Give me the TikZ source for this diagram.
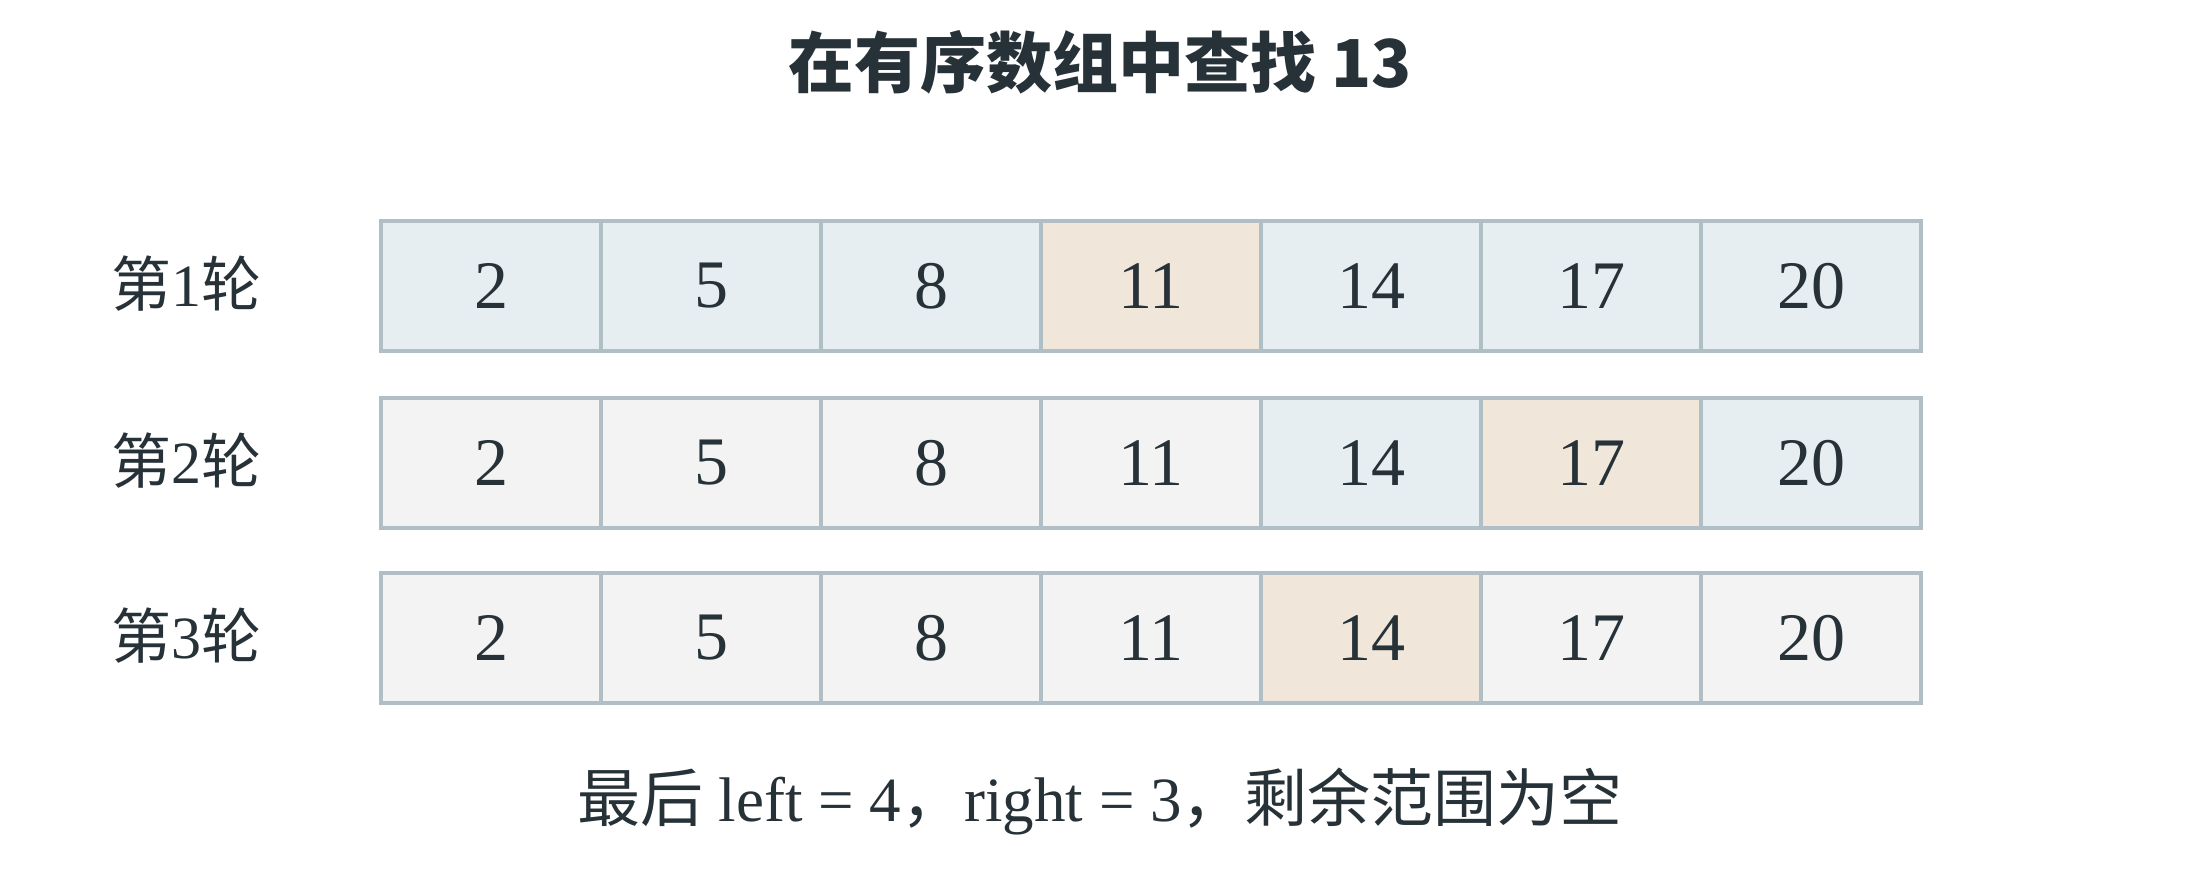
\documentclass[tikz,border=0pt]{standalone}
\usepackage{fontspec}
\setmainfont{Liberation Serif}
\newfontfamily\cjk{Noto Sans CJK SC}
\definecolor{txt}{HTML}{263238}
\definecolor{bord}{HTML}{B0BEC5}
\definecolor{act}{HTML}{E7EEF1}
\definecolor{mid}{HTML}{F0E6DA}
\definecolor{ina}{HTML}{F3F3F3}
\begin{document}
\begin{tikzpicture}[x=0.5pt,y=-0.5pt,
  cell/.style={draw=bord,line width=2pt,minimum width=110pt,minimum height=65pt,inner sep=0pt,anchor=north west,text=txt,font=\fontsize{34}{34}\selectfont},
  rowlab/.style={text=txt,font=\fontsize{30}{30}\selectfont},
  title/.style={text=txt,font=\cjk\bfseries\fontsize{33}{33}\selectfont},
  note/.style={text=txt,font=\fontsize{31.5}{31.5}\selectfont}]
\useasboundingbox[fill=white] (0,0) rectangle (2200,880);
\node[title] (title) at (1100,62) {在有序数组中查找 13};
% row labels
\node[rowlab] (l1) at (186,284) {{\cjk 第}1{\cjk 轮}};
\node[rowlab] (l2) at (186,461) {{\cjk 第}2{\cjk 轮}};
\node[rowlab] (l3) at (186,636) {{\cjk 第}3{\cjk 轮}};
% cells
\foreach \v/\c [count=\i from 0] in {2/act,5/act,8/act,11/mid,14/act,17/act,20/act}
  \node[cell,fill=\c] (a\i) at (379+220*\i,219) {\v};
\foreach \v/\c [count=\i from 0] in {2/ina,5/ina,8/ina,11/ina,14/act,17/mid,20/act}
  \node[cell,fill=\c] (b\i) at (379+220*\i,396) {\v};
\foreach \v/\c [count=\i from 0] in {2/ina,5/ina,8/ina,11/ina,14/mid,17/ina,20/ina}
  \node[cell,fill=\c] (c\i) at (379+220*\i,571) {\v};
\node[note] (note) at (1100,802) {{\cjk 最后} left = 4{\cjk ，}right = 3{\cjk ，剩余范围为空}};
\end{tikzpicture}
\end{document}
